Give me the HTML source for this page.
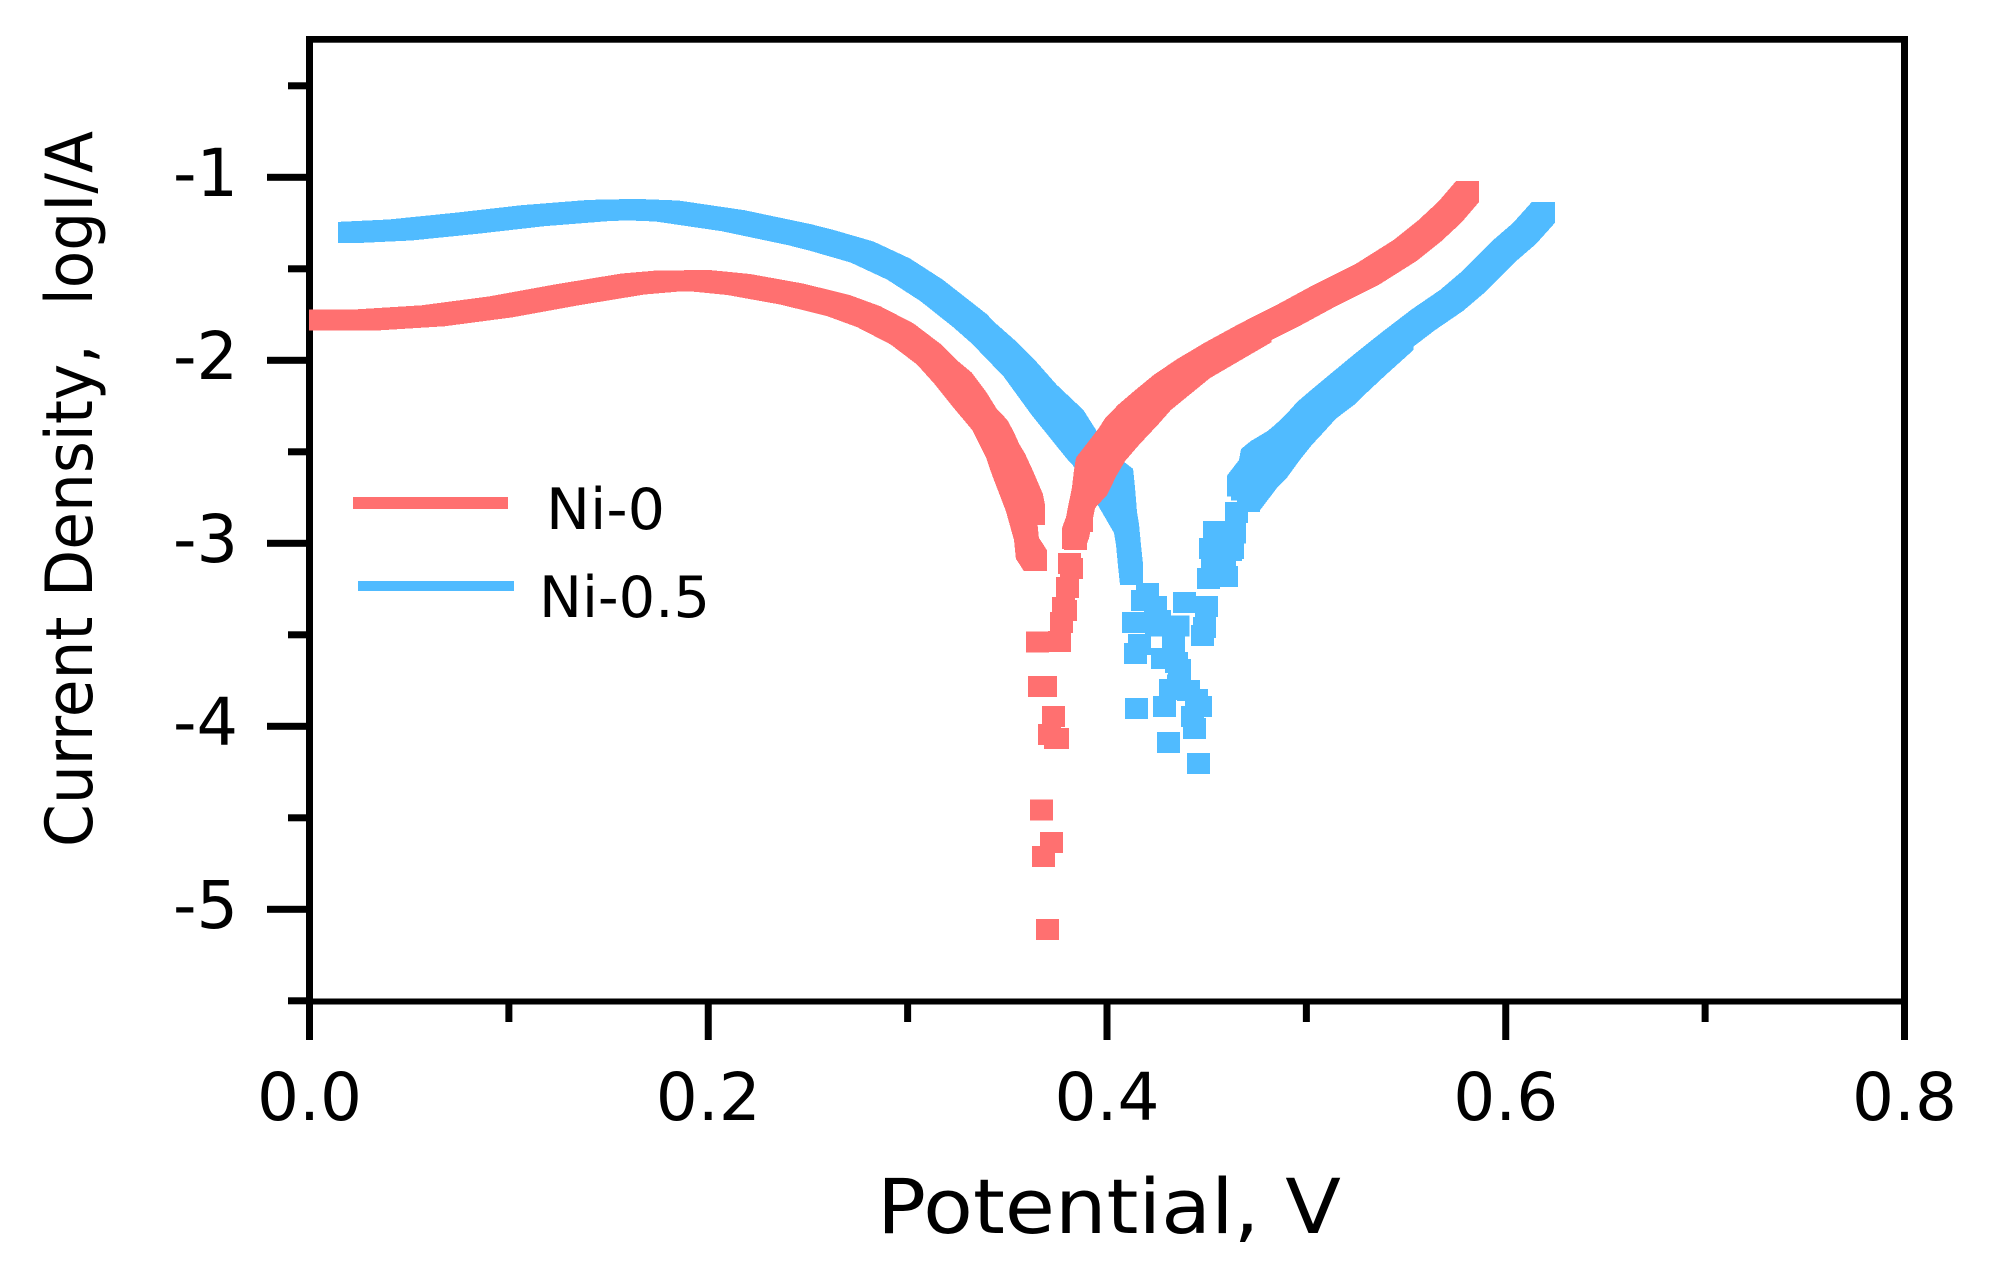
<!DOCTYPE html>
<html lang="en">
<head>
<meta charset="utf-8">
<title>Current Density vs Potential</title>
<style>
html,body{margin:0;padding:0;background:#fff;width:1993px;height:1284px;overflow:hidden}
svg{display:block}
text{font-family:"DejaVu Sans","Liberation Sans",sans-serif;fill:#000}
</style>
</head>
<body>
<svg id="chart" xmlns="http://www.w3.org/2000/svg" width="1993" height="1284" viewBox="0 0 1993 1284">
  <rect x="0" y="0" width="1993" height="1284" fill="#fff"/>
  <g id="axes"></g>
  <g id="marks"></g>
  <text x="877" y="1233" font-size="76" textLength="464" lengthAdjust="spacingAndGlyphs">Potential, V</text>
  <text transform="translate(92,847) rotate(-90)" font-size="65" textLength="716" lengthAdjust="spacingAndGlyphs" xml:space="preserve">Current Density,  logI/A</text>
  <g>
    <rect x="353" y="497" width="155" height="12" fill="#FF7070"/>
    <text x="546" y="529" font-size="57" textLength="119" lengthAdjust="spacingAndGlyphs">Ni-0</text>
    <rect x="358" y="581" width="156" height="10" fill="#50BBFF"/>
    <text x="539" y="617" font-size="57" textLength="171" lengthAdjust="spacingAndGlyphs">Ni-0.5</text>
  </g>
</svg>
<script>
// Axis tick values and labels
const xMajorTicks = [0, 0.2, 0.4, 0.6, 0.8];
const xMinorTicks = [0.1, 0.3, 0.5, 0.7];
const xTickLabels = ["0.0", "0.2", "0.4", "0.6", "0.8"];
const yMajorTicks = [-1, -2, -3, -4, -5];
const yMinorTicks = [-0.5, -1.5, -2.5, -3.5, -4.5, -5.5];
const yTickLabels = ["-1", "-2", "-3", "-4", "-5"];

// Ni-0 : connected runs of points (potential V, log current)
const ni0CathodicV = [0.0055,0.0288,0.0619,0.0955,0.1292,0.1623,0.1793,0.1959,0.2152,0.2420,0.2653,0.2804,0.2972,0.3105,0.3197,0.3263,0.3338,0.3388,0.3443,0.3473,0.3501,0.3531,0.3571,0.3621,0.3631];
const ni0CathodicLog = [-1.780,-1.779,-1.757,-1.709,-1.642,-1.583,-1.567,-1.565,-1.586,-1.638,-1.701,-1.761,-1.856,-1.966,-2.064,-2.124,-2.233,-2.321,-2.384,-2.444,-2.512,-2.567,-2.662,-2.788,-2.843];
const ni0CathodicLowerV = [0.3105,0.3190,0.3280,0.3381,0.3451,0.3481,0.3511,0.3551,0.3591,0.3601,0.3641];
const ni0CathodicLowerLog = [-1.966,-2.069,-2.192,-2.323,-2.474,-2.569,-2.654,-2.769,-2.925,-3.028,-3.094];
const ni0AnodicV = [0.3832,0.3852,0.3862,0.3882,0.3892,0.3902,0.3965,0.4015,0.4048,0.4115,0.4191,0.4291,0.4406,0.4549,0.4725,0.4908,0.5093,0.5309,0.5495,0.5620,0.5720,0.5808];
const ni0AnodicLog = [-2.974,-2.914,-2.859,-2.750,-2.657,-2.589,-2.501,-2.430,-2.375,-2.299,-2.228,-2.138,-2.053,-1.960,-1.856,-1.755,-1.646,-1.528,-1.400,-1.291,-1.190,-1.078];
const ni0AnodicLowerV = [0.3882,0.3942,0.3992,0.4033,0.4103,0.4203,0.4263,0.4459,0.4767];
const ni0AnodicLowerLog = [-2.750,-2.679,-2.569,-2.493,-2.405,-2.288,-2.214,-2.040,-1.844];
// Ni-0 : isolated points around the corrosion potential
const ni0ScatterV = [0.3872,0.3842,0.3822,0.3812,0.3802,0.3792,0.3782,0.3772,0.3762,0.3651,0.3661,0.3691,0.3732,0.3712,0.3742,0.3752,0.3671,0.3722,0.3681,0.3702];
const ni0ScatterLog = [-2.881,-2.979,-3.138,-3.110,-3.242,-3.367,-3.351,-3.433,-3.537,-3.539,-3.783,-3.783,-3.946,-4.045,-4.067,-4.067,-4.457,-4.635,-4.712,-5.110];

// Ni-0.5 : connected runs of points
const ni05CathodicV = [0.0201,0.0454,0.0790,0.1121,0.1457,0.1623,0.1793,0.2124,0.2460,0.2570,0.2771,0.2954,0.3122,0.3288,0.3488,0.3574,0.3689,0.3824,0.3897,0.3955,0.4023,0.4073,0.4083,0.4093,0.4103,0.4113,0.4123];
const ni05CathodicLog = [-1.301,-1.288,-1.251,-1.210,-1.181,-1.177,-1.184,-1.237,-1.314,-1.345,-1.408,-1.501,-1.619,-1.763,-1.955,-2.048,-2.190,-2.329,-2.455,-2.556,-2.608,-2.651,-2.750,-2.886,-2.952,-3.067,-3.171];
const ni05CathodicLowerV = [0.3137,0.3338,0.3539,0.3679,0.3855,0.3885,0.3997,0.4043,0.4093];
const ni05CathodicLowerLog = [-1.632,-1.804,-2.031,-2.241,-2.479,-2.515,-2.706,-2.793,-2.886];
const ni05AnodicV = [0.4660,0.4720,0.4730,0.4780,0.4860,0.4900,0.4960,0.5011,0.5081,0.5171,0.5302,0.5435,0.5585,0.5728,0.5846,0.5986,0.6094,0.6189];
const ni05AnodicLog = [-2.687,-2.602,-2.542,-2.498,-2.446,-2.411,-2.348,-2.285,-2.220,-2.138,-2.020,-1.905,-1.780,-1.673,-1.564,-1.408,-1.307,-1.192];
const ni05AnodicLowerV = [0.4710,0.4802,0.4840,0.4910,0.4970,0.5021,0.5091,0.5181,0.5241,0.5332,0.5480];
const ni05AnodicLowerLog = [-2.761,-2.630,-2.591,-2.487,-2.405,-2.345,-2.261,-2.187,-2.124,-2.031,-1.886];
// Ni-0.5 : isolated points around the corrosion potential
const ni05ScatterV = [0.4203,0.4178,0.4243,0.4263,0.4133,0.4389,0.4499,0.4489,0.4479,0.4248,0.4356,0.4163,0.4143,0.4334,0.4278,0.4349,0.4364,0.4319,0.4409,0.4449,0.4288,0.4469,0.4148,0.4429,0.4439,0.4308,0.4459,0.4359,0.4539,0.4639,0.4519,0.4629,0.4529,0.4619,0.4509,0.4599,0.4529,0.4589,0.4650,0.4710,0.4680];
const ni05ScatterLog = [-3.274,-3.313,-3.345,-3.422,-3.433,-3.324,-3.345,-3.460,-3.504,-3.452,-3.452,-3.553,-3.602,-3.548,-3.630,-3.651,-3.690,-3.799,-3.804,-3.854,-3.892,-3.892,-3.903,-3.946,-4.012,-4.089,-4.203,-3.774,-2.936,-2.944,-3.028,-3.028,-3.037,-3.039,-3.192,-3.181,-3.146,-3.146,-2.832,-2.772,-2.709];

const NS = "http://www.w3.org/2000/svg";
const axes = document.getElementById("axes");
const marks = document.getElementById("marks");
const RED = "#FF7070", BLUE = "#50BBFF";
const MW = 23, MH = 21;

function xScale(v) { return 309.5 + v * 1993.75; }
function yScale(v) { return 177.3 + (-1 - v) * 183; }

function bar(x, y, w, h) {
  const r = document.createElementNS(NS, "rect");
  r.setAttribute("x", x);
  r.setAttribute("y", y);
  r.setAttribute("width", w);
  r.setAttribute("height", h);
  r.setAttribute("fill", "#000");
  axes.appendChild(r);
  return r;
}

// Frame
let frameLeft = bar(306, 36, 7, 1004);


let frameRight = bar(1901, 36, 7, 1004);


let frameTop = bar(306, 36, 1602, 6.7);


let frameBottom = bar(306, 998.5, 1602, 6);



// Ticks
xMajorTicks.forEach(function (v, i) {
  const t = bar(xScale(v) - 3.5, 1001, 7, 39);
  
  
  const label = document.createElementNS(NS, "text");
  label.setAttribute("x", xScale(v));
  label.setAttribute("y", 1120);
  label.setAttribute("font-size", 66);
  label.setAttribute("text-anchor", "middle");
  label.setAttribute("textLength", 105);
  label.setAttribute("lengthAdjust", "spacingAndGlyphs");
  
  
  label.textContent = xTickLabels[i];
  axes.appendChild(label);
});
xMinorTicks.forEach(function (v) {
  const t = bar(xScale(v) - 3.5, 1001, 7, 21);
  
  
});
yMajorTicks.forEach(function (v, i) {
  const t = bar(267, yScale(v) - 3.5, 42, 7);
  
  
  const label = document.createElementNS(NS, "text");
  label.setAttribute("x", 173);
  label.setAttribute("y", yScale(v) + 18.5);
  label.setAttribute("font-size", 66);
  label.setAttribute("textLength", 65);
  label.setAttribute("lengthAdjust", "spacingAndGlyphs");
  
  
  label.textContent = yTickLabels[i];
  axes.appendChild(label);
});
yMinorTicks.forEach(function (v) {
  const t = bar(288, yScale(v) - 3.5, 21, 7);
  
  
});

// Square marker swept between two neighbouring readings
function sweepPoints(x1, y1, x2, y2) {
  if (x2 < x1) { let a = x1; x1 = x2; x2 = a; a = y1; y1 = y2; y2 = a; }
  const w = MW / 2, h = MH / 2;
  if (y2 >= y1) {
    return [[x1-w,y1-h],[x1+w,y1-h],[x2+w,y2-h],[x2+w,y2+h],[x2-w,y2+h],[x1-w,y1+h]];
  }
  return [[x1-w,y1-h],[x2-w,y2-h],[x2+w,y2-h],[x2+w,y2+h],[x1+w,y1+h],[x1-w,y1+h]];
}

function drawRun(xs, ys, color, name) {
  for (let i = 0; i < xs.length - 1; i++) {
    const pts = sweepPoints(xScale(xs[i]), yScale(ys[i]), xScale(xs[i+1]), yScale(ys[i+1]));
    const p = document.createElementNS(NS, "polygon");
    p.setAttribute("points", pts.map(function (q) { return q[0].toFixed(1) + "," + q[1].toFixed(1); }).join(" "));
    p.setAttribute("fill", color);
    p.setAttribute("shape-rendering", "crispEdges");
    
    
    marks.appendChild(p);
  }
}

function drawScatter(xs, ys, color, name) {
  for (let i = 0; i < xs.length; i++) {
    const r = document.createElementNS(NS, "rect");
    r.setAttribute("x", (xScale(xs[i]) - MW / 2).toFixed(1));
    r.setAttribute("y", (yScale(ys[i]) - MH / 2).toFixed(1));
    r.setAttribute("width", MW);
    r.setAttribute("height", MH);
    r.setAttribute("fill", color);
    r.setAttribute("shape-rendering", "crispEdges");
    
    
    marks.appendChild(r);
  }
}

drawRun(ni05CathodicV, ni05CathodicLog, BLUE, "ni-0-5-cathodic-trace");
drawRun(ni05CathodicLowerV, ni05CathodicLowerLog, BLUE, "ni-0-5-cathodic-lower-trace");
drawRun(ni05AnodicV, ni05AnodicLog, BLUE, "ni-0-5-anodic-trace");
drawRun(ni05AnodicLowerV, ni05AnodicLowerLog, BLUE, "ni-0-5-anodic-lower-trace");
drawScatter(ni05ScatterV, ni05ScatterLog, BLUE, "ni-0-5-point");

drawRun(ni0CathodicV, ni0CathodicLog, RED, "ni-0-cathodic-trace");
drawRun(ni0CathodicLowerV, ni0CathodicLowerLog, RED, "ni-0-cathodic-lower-trace");
drawRun(ni0AnodicV, ni0AnodicLog, RED, "ni-0-anodic-trace");
drawRun(ni0AnodicLowerV, ni0AnodicLowerLog, RED, "ni-0-anodic-lower-trace");
drawScatter(ni0ScatterV, ni0ScatterLog, RED, "ni-0-point");
</script>
</body>
</html>
